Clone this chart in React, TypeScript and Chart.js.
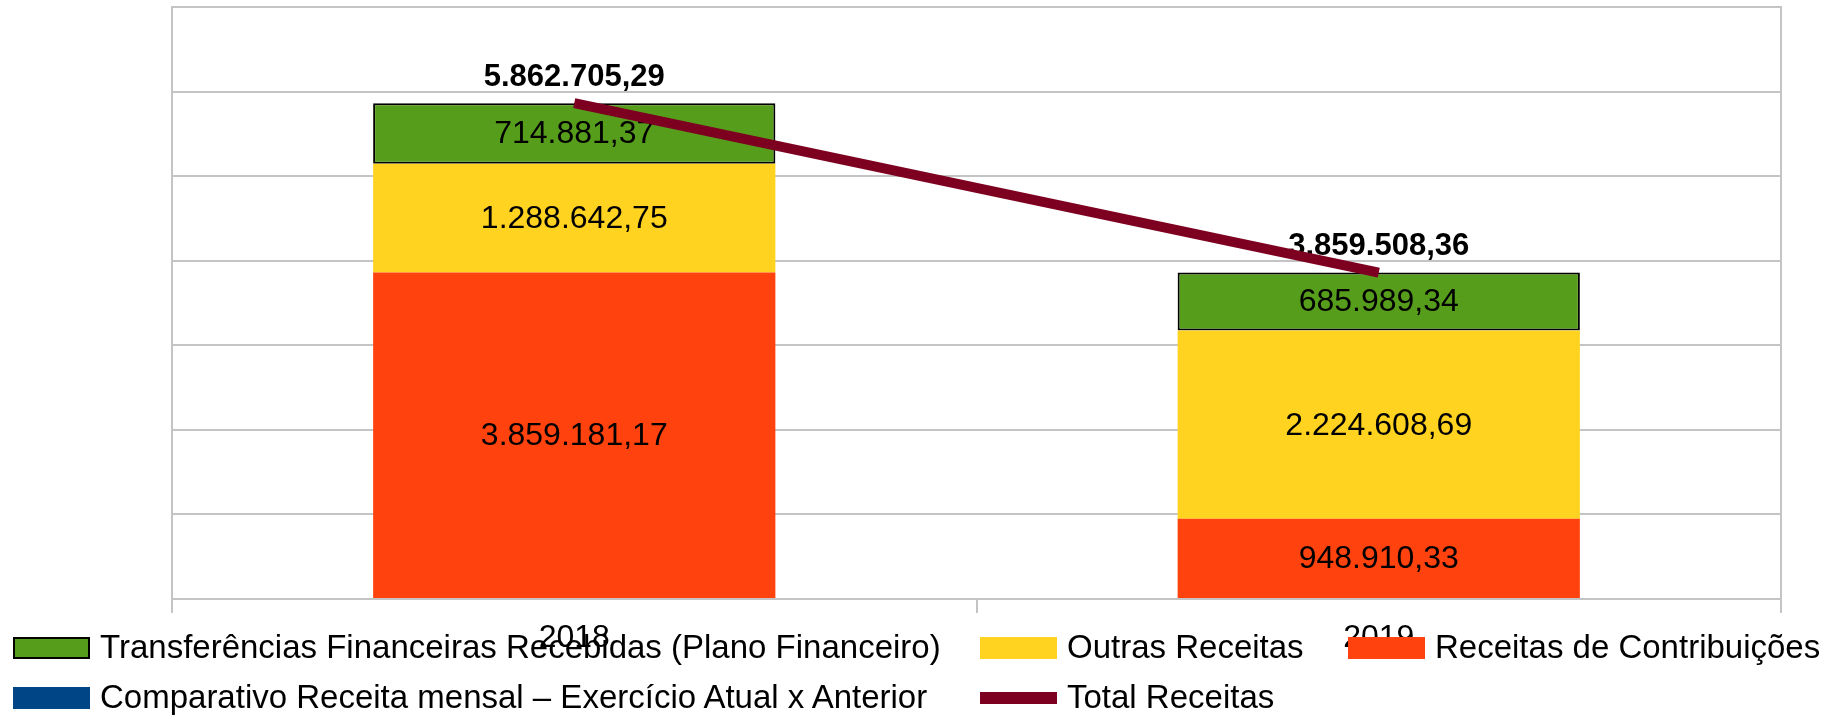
import React, { useEffect, useRef } from 'react';
import { Chart, registerables } from 'chart.js';

Chart.register(...registerables);

// ---------- data ----------
const categories = ['2018', '2019'];
const receitasContribuicoes = [3859181.17, 948910.33];
const outrasReceitas = [1288642.75, 2224608.69];
const transferencias = [714881.37, 685989.34];
const comparativo: (number | null)[] = [null, null];
const totalReceitas = [5862705.29, 3859508.36];
const yMin = 0;
const yMax = 7000000;
const yStep = 1000000;

const seriesLabels = {
  contrib: 'Receitas de Contribuições',
  outras: 'Outras Receitas',
  transf: 'Transferências Financeiras Recebidas (Plano Financeiro)',
  comp: 'Comparativo Receita mensal – Exercício Atual x Anterior',
  total: 'Total Receitas',
};

const colors = {
  contrib: '#ff420e',
  outras: '#ffd320',
  transf: '#579d1c',
  comp: '#004586',
  total: '#7e0021',
  grid: '#c4c4c4',
};

const FONT = "'Liberation Sans', Arial, sans-serif";

function fmtBR(v: number): string {
  const [i, d] = v.toFixed(2).split('.');
  return i.replace(/\B(?=(\d{3})+(?!\d))/g, '.') + ',' + d;
}

const valueLabelPlugin = {
  id: 'valueLabels',
  afterDatasetDraw(chart: any, args: any) {
    const ds = chart.data.datasets[args.index];
    if (ds.type === 'line') return;
    const ctx = chart.ctx;
    ctx.save();
    ctx.font = `32px ${FONT}`;
    ctx.fillStyle = '#000';
    ctx.textAlign = 'center';
    ctx.textBaseline = 'middle';
    args.meta.data.forEach((el: any, i: number) => {
      const v = ds.data[i];
      if (v == null) return;
      const p = el.getProps(['x', 'y', 'base'], true);
      ctx.fillText(fmtBR(v), p.x, (p.y + p.base) / 2 + 1);
    });
    ctx.restore();
  },
  beforeDatasetDraw(chart: any, args: any) {
    const ds = chart.data.datasets[args.index];
    if (ds.type !== 'line') return;
    const ctx = chart.ctx;
    ctx.save();
    ctx.font = `bold 31px ${FONT}`;
    ctx.fillStyle = '#000';
    ctx.textAlign = 'center';
    ctx.textBaseline = 'middle';
    args.meta.data.forEach((el: any, i: number) => {
      const v = ds.data[i];
      if (v == null) return;
      const p = el.getProps(['x', 'y'], true);
      ctx.fillText(fmtBR(v), p.x, p.y - 26);
    });
    ctx.restore();
  },
};

type LegendItem = { label: string; color: string; kind: 'box' | 'boxBorder' | 'line' };
const legendItems: LegendItem[] = [
  { label: seriesLabels.transf, color: colors.transf, kind: 'boxBorder' },
  { label: seriesLabels.outras, color: colors.outras, kind: 'box' },
  { label: seriesLabels.contrib, color: colors.contrib, kind: 'box' },
  { label: seriesLabels.comp, color: colors.comp, kind: 'box' },
  { label: seriesLabels.total, color: colors.total, kind: 'line' },
];

export default function App() {
  const canvasRef = useRef<HTMLCanvasElement | null>(null);

  useEffect(() => {
    if (!canvasRef.current) return;
    const chart = new Chart(canvasRef.current, {
      type: 'bar',
      data: {
        labels: categories,
        datasets: [
          { type: 'bar', label: seriesLabels.contrib, data: receitasContribuicoes, backgroundColor: colors.contrib, borderWidth: 0, stack: 's', order: 1 },
          { type: 'bar', label: seriesLabels.outras, data: outrasReceitas, backgroundColor: colors.outras, borderWidth: 0, stack: 's', order: 1 },
          { type: 'bar', label: seriesLabels.transf, data: transferencias, backgroundColor: colors.transf, borderColor: '#000', borderWidth: 2, borderSkipped: false, stack: 's', order: 1 },
          { type: 'bar', label: seriesLabels.comp, data: comparativo, backgroundColor: colors.comp, borderWidth: 0, stack: 's', order: 1 },
          { type: 'line', label: seriesLabels.total, data: totalReceitas, borderColor: colors.total, backgroundColor: colors.total, borderWidth: 10, borderCapStyle: 'butt', pointRadius: 0, pointHoverRadius: 0, stack: 'total', order: 0 },
        ] as any,
      },
      options: {
        responsive: false,
        animation: false,
        devicePixelRatio: 1,
        layout: { padding: { left: 172, right: 60, top: 7, bottom: 0 } },
        plugins: { legend: { display: false }, tooltip: { enabled: false } },
        datasets: { bar: { categoryPercentage: 1, barPercentage: 0.5 } } as any,
        scales: {
          x: {
            stacked: true,
            grid: { offset: true, drawOnChartArea: false, drawTicks: true, tickLength: 14, color: colors.grid, lineWidth: 2 },
            border: { display: true, color: colors.grid, width: 2 },
            ticks: { font: { family: FONT, size: 32 }, color: '#000', padding: 6, maxRotation: 0 },
            afterFit: (s: any) => { s.height = 116; },
          },
          y: {
            stacked: true,
            min: yMin,
            max: yMax,
            ticks: { display: false, stepSize: yStep },
            grid: { color: colors.grid, lineWidth: 2, drawTicks: false },
            border: { display: true, color: colors.grid, width: 2 },
            afterFit: (s: any) => { s.width = 0; },
          },
          y2: {
            position: 'right',
            display: true,
            min: yMin,
            max: yMax,
            ticks: { display: false },
            grid: { display: false, drawTicks: false },
            border: { display: true, color: colors.grid, width: 2 },
            afterFit: (s: any) => { s.width = 0; },
          },
        } as any,
      },
      plugins: [valueLabelPlugin as any],
    });
    return () => chart.destroy();
  }, []);

  return (
    <div style={{ position: 'fixed', left: 0, top: 0, width: 1841, height: 715, background: '#fff', fontFamily: FONT }}>
      <canvas ref={canvasRef} width={1841} height={715} style={{ display: 'block', width: 1841, height: 715 }} />
      <div
        style={{
          position: 'absolute',
          left: 13,
          top: 623,
          display: 'grid',
          gridTemplateColumns: '967px 368px auto',
          gridAutoRows: '50px',
          alignItems: 'center',
          fontSize: 33,
          lineHeight: '33px',
          color: '#000',
          whiteSpace: 'nowrap',
        }}
      >
        {legendItems.map((it) => (
          <div key={it.label} style={{ display: 'flex', alignItems: 'center' }}>
            <span
              style={{
                display: 'inline-block',
                boxSizing: 'border-box',
                width: 77,
                height: it.kind === 'line' ? 12 : 22,
                background: it.color,
                border: it.kind === 'boxBorder' ? '2px solid #000' : 'none',
              }}
            />
            <span style={{ marginLeft: 10, position: 'relative', top: -2 }}>{it.label}</span>
          </div>
        ))}
      </div>
    </div>
  );
}
